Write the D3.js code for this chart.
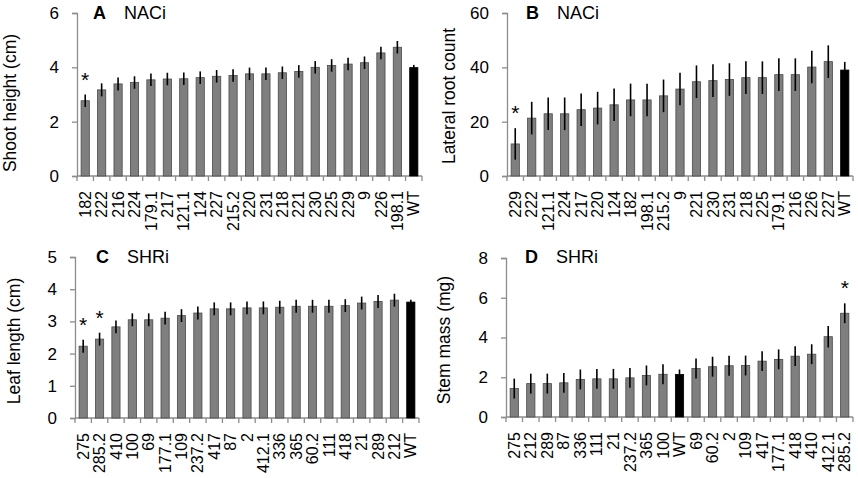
<!DOCTYPE html>
<html>
<head>
<meta charset="utf-8">
<script src="https://cdn.jsdelivr.net/npm/d3@7"></script>
<style>
  body { margin: 0; background: #fff; }
  svg { font-family: "Liberation Sans", Arial, sans-serif; }
</style>
</head>
<body>
<div id="chart"></div>
<script>
// Panel A - NACi shoot height
var aLines = ["182", "222", "216", "224", "179.1", "217", "121.1", "124", "227", "215.2", "220", "231", "218", "221", "230", "225", "229", "9", "226", "198.1", "WT"];
var aMeans = [2.77, 3.17, 3.39, 3.44, 3.54, 3.57, 3.58, 3.62, 3.67, 3.70, 3.76, 3.76, 3.80, 3.85, 4.00, 4.07, 4.12, 4.17, 4.53, 4.74, 3.99];
var aErrs = [0.23, 0.24, 0.24, 0.23, 0.23, 0.23, 0.23, 0.23, 0.23, 0.23, 0.23, 0.23, 0.23, 0.23, 0.23, 0.23, 0.23, 0.23, 0.23, 0.23, 0.10];
var aSig = ["182"];

// Panel B - NACi lateral root count
var bLines = ["229", "222", "121.1", "224", "217", "220", "124", "182", "198.1", "215.2", "9", "221", "230", "231", "218", "225", "179.1", "216", "226", "227", "WT"];
var bMeans = [11.8, 21.3, 22.9, 22.9, 24.4, 25.0, 26.2, 28.0, 28.0, 29.5, 32.0, 34.7, 35.1, 35.5, 36.2, 36.2, 37.3, 37.3, 40.1, 42.1, 39.0];
var bErrs = [5.8, 6, 6, 6, 6, 6, 6, 6, 6, 6, 6, 6, 6, 6, 6, 6, 6, 6, 6, 6, 3];
var bSig = ["229"];

// Panel C - SHRi leaf length
var cLines = ["275", "285.2", "410", "100", "69", "177.1", "109", "237.2", "417", "87", "2", "412.1", "336", "365", "60.2", "111", "418", "21", "289", "212", "WT"];
var cMeans = [2.23, 2.45, 2.83, 3.05, 3.05, 3.10, 3.18, 3.26, 3.39, 3.39, 3.42, 3.42, 3.44, 3.47, 3.47, 3.47, 3.49, 3.57, 3.62, 3.66, 3.60];
var cErrs = [0.2, 0.2, 0.2, 0.2, 0.2, 0.2, 0.2, 0.2, 0.2, 0.2, 0.2, 0.2, 0.2, 0.2, 0.2, 0.2, 0.2, 0.2, 0.2, 0.2, 0.07];
var cSig = ["275", "285.2"];

// Panel D - SHRi stem mass
var dLines = ["275", "212", "289", "87", "336", "111", "21", "237.2", "365", "100", "WT", "69", "60.2", "2", "109", "417", "177.1", "418", "410", "412.1", "285.2"];
var dMeans = [1.43, 1.68, 1.68, 1.72, 1.89, 1.92, 1.92, 1.97, 2.09, 2.15, 2.14, 2.44, 2.53, 2.58, 2.59, 2.81, 2.90, 3.06, 3.16, 4.04, 5.22];
var dErrs = [0.5, 0.5, 0.5, 0.5, 0.5, 0.5, 0.5, 0.5, 0.5, 0.5, 0.25, 0.5, 0.5, 0.5, 0.5, 0.5, 0.5, 0.5, 0.5, 0.54, 0.5];
var dSig = ["285.2"];

var svg = d3.select("#chart")
  .append("svg")
  .attr("width", 858)
  .attr("height", 478);

var axisColor = "#8c8c8c";

function drawPanel(p) {
  var x = d3.scaleBand()
    .domain(p.lines)
    .range([p.left, p.right])
    .paddingInner(0.5)
    .paddingOuter(0.25);

  var y = d3.scaleLinear()
    .domain([0, p.ymax])
    .range([p.bottom, p.top]);

  var g = svg.append("g");

  // y axis
  var yAxis = g.append("g")
    .attr("transform", `translate(${p.left},0)`)
    .call(d3.axisLeft(y).tickValues(p.yticks).tickSize(5).tickPadding(13).tickFormat(d3.format("d")));
  yAxis.select(".domain").attr("stroke", axisColor).attr("stroke-width", 1.3);
  yAxis.selectAll(".tick line").attr("stroke", axisColor).attr("stroke-width", 1.3);
  yAxis.selectAll(".tick text")
    .attr("font-size", 17)
    .attr("fill", "#000")
    .attr("font-family", "Liberation Sans, Arial, sans-serif");

  // x axis line + ticks on the category boundaries
  var bounds = d3.range(p.lines.length + 1).map(i => p.left + i * (p.right - p.left) / p.lines.length);
  g.append("line")
    .attr("x1", p.left).attr("x2", p.right)
    .attr("y1", p.bottom).attr("y2", p.bottom)
    .attr("stroke", axisColor).attr("stroke-width", 1.3);
  g.selectAll(".xtick")
    .data(bounds)
    .enter()
    .append("line")
    .attr("x1", d => d).attr("x2", d => d)
    .attr("y1", p.bottom).attr("y2", p.bottom + 5)
    .attr("stroke", axisColor).attr("stroke-width", 1.3);

  // x labels, rotated
  g.selectAll(".xlabel")
    .data(p.lines)
    .enter()
    .append("text")
    .attr("transform", d => `translate(${x(d) + x.bandwidth() / 2},${p.bottom + 15}) rotate(-90)`)
    .attr("text-anchor", "end")
    .attr("dy", "0.35em")
    .attr("font-size", 16)
    .text(d => d);

  // bars
  var rows = p.lines.map((d, i) => ({ line: d, mean: p.means[i], err: p.errs[i] }));
  g.selectAll(".bar")
    .data(rows)
    .enter()
    .append("rect")
    .attr("x", d => x(d.line))
    .attr("width", x.bandwidth())
    .attr("y", d => y(d.mean))
    .attr("height", d => p.bottom - y(d.mean))
    .attr("fill", d => d.line === "WT" ? "#000" : "#7f7f7f")
    .attr("stroke", d => d.line === "WT" ? "#000" : "#4a4a4a")
    .attr("stroke-width", 0.8);

  // error bars
  g.selectAll(".err")
    .data(rows)
    .enter()
    .append("line")
    .attr("x1", d => x(d.line) + x.bandwidth() / 2)
    .attr("x2", d => x(d.line) + x.bandwidth() / 2)
    .attr("y1", d => y(d.mean - d.err))
    .attr("y2", d => y(d.mean + d.err))
    .attr("stroke", "#000")
    .attr("stroke-width", 1.6);

  // significance stars
  g.selectAll(".star")
    .data(rows.filter(d => p.sig.indexOf(d.line) >= 0))
    .enter()
    .append("text")
    .attr("x", d => x(d.line) + x.bandwidth() / 2)
    .attr("y", d => y(d.mean + d.err) - 8)
    .attr("text-anchor", "middle")
    .attr("font-size", 21)
    .text("*");

  // panel tag
  g.append("text")
    .attr("x", p.tagX).attr("y", p.tagY)
    .attr("font-size", 18)
    .attr("font-weight", "bold")
    .text(p.tag);
  g.append("text")
    .attr("x", p.tagX + 31).attr("y", p.tagY)
    .attr("font-size", 18)
    .text(p.group);

  // y axis title
  g.append("text")
    .attr("transform", `translate(${p.titleX},${p.titleY}) rotate(-90)`)
    .attr("text-anchor", "middle")
    .attr("font-size", 17.5)
    .text(p.title);
}

drawPanel({ lines: aLines, means: aMeans, errs: aErrs, sig: aSig, ymax: 6, yticks: [0, 2, 4, 6],
  left: 77, right: 422, top: 13, bottom: 176, tag: "A", group: "NACi", tagX: 93, tagY: 19,
  title: "Shoot height (cm)", titleX: 16, titleY: 103 });

drawPanel({ lines: bLines, means: bMeans, errs: bErrs, sig: bSig, ymax: 60, yticks: [0, 20, 40, 60],
  left: 507, right: 853, top: 13, bottom: 176, tag: "B", group: "NACi", tagX: 526, tagY: 19,
  title: "Lateral root count", titleX: 455, titleY: 96 });

drawPanel({ lines: cLines, means: cMeans, errs: cErrs, sig: cSig, ymax: 5, yticks: [0, 1, 2, 3, 4, 5],
  left: 75, right: 419, top: 257, bottom: 418, tag: "C", group: "SHRi", tagX: 96, tagY: 263,
  title: "Leaf length (cm)", titleX: 20, titleY: 341 });

drawPanel({ lines: dLines, means: dMeans, errs: dErrs, sig: dSig, ymax: 8, yticks: [0, 2, 4, 6, 8],
  left: 506, right: 853, top: 258, bottom: 417, tag: "D", group: "SHRi", tagX: 525, tagY: 263,
  title: "Stem mass (mg)", titleX: 450, titleY: 340 });
</script>
</body>
</html>
